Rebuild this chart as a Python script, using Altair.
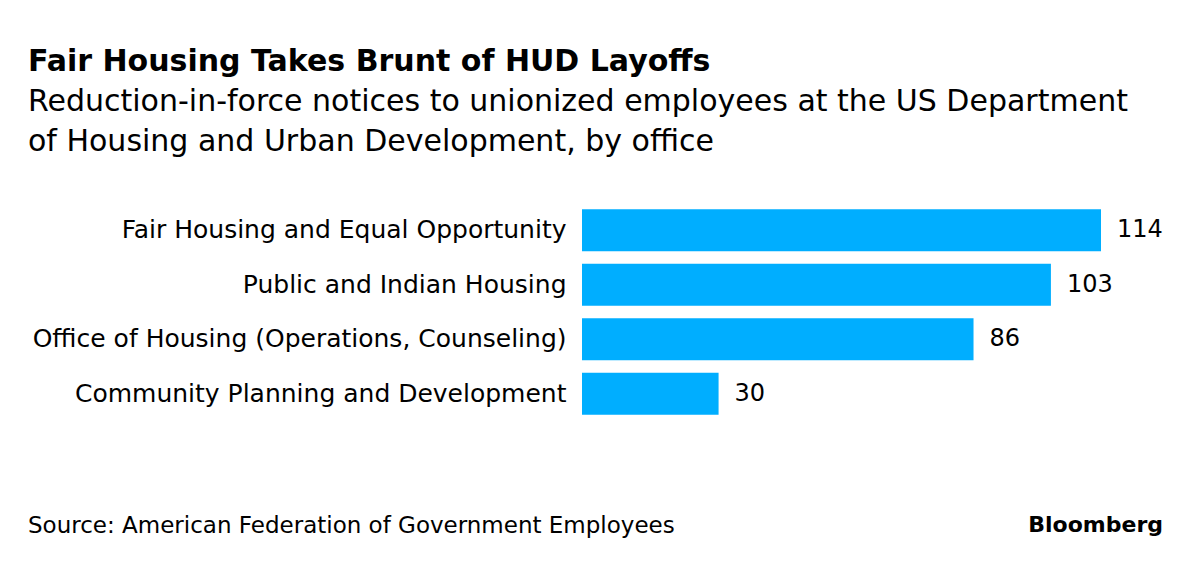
import altair as alt
import pandas as pd

offices = [
    "Fair Housing and Equal Opportunity",
    "Public and Indian Housing",
    "Office of Housing (Operations, Counseling)",
    "Community Planning and Development",
]
notices = [114, 103, 86, 30]

title_text = "Fair Housing Takes Brunt of HUD Layoffs"
subtitle_lines = [
    "Reduction-in-force notices to unionized employees at the US Department",
    "of Housing and Urban Development, by office",
]
source_text = "Source: American Federation of Government Employees"
brand_text = "Bloomberg"

FONT = "DejaVu Sans"
BLUE = "#00aeff"

df = pd.DataFrame({"office": offices, "notices": notices})

y_enc = alt.Y(
    "office:N",
    sort=offices,
    title=None,
    scale=alt.Scale(paddingInner=0.23, paddingOuter=0.115),
    axis=alt.Axis(
        domain=False, ticks=False, labelFontSize=25, labelColor="#000000",
        labelFont=FONT, labelPadding=16, labelLimit=600,
    ),
)
x_enc = alt.X("notices:Q", axis=None, scale=alt.Scale(domain=[0, 114], nice=False))

bars = alt.Chart(df).mark_bar(color=BLUE).encode(x=x_enc, y=y_enc)
labels = alt.Chart(df).mark_text(
    align="left", baseline="middle", dx=16, fontSize=24, font=FONT, color="#000000"
).encode(x=x_enc, y=y_enc, text="notices:Q")

src = alt.Chart(pd.DataFrame({"t": [source_text]})).mark_text(
    align="left", baseline="alphabetic", fontSize=23, font=FONT, color="#000000"
).encode(x=alt.value(-554), y=alt.value(330), text="t:N")

brand = alt.Chart(pd.DataFrame({"t": [brand_text]})).mark_text(
    align="right", baseline="alphabetic", fontSize=22, font=FONT, fontWeight="bold", color="#000000"
).encode(x=alt.value(581), y=alt.value(329), text="t:N")

chart = alt.layer(bars, labels, src, brand).properties(
    width=519,
    height=218,
    autosize=alt.AutoSizeParams(type="none"),
    padding={"left": 574, "top": 195, "right": 92, "bottom": 137},
    background="#ffffff",
    title=alt.TitleParams(
        text=title_text,
        subtitle=subtitle_lines,
        anchor="start",
        frame="group",
        dx=-554,
        dy=-6,
        offset=40,
        font=FONT,
        fontSize=30,
        fontWeight="bold",
        color="#000000",
        subtitleFont=FONT,
        subtitleFontSize=30,
        subtitleColor="#000000",
        subtitleLineHeight=40,
        subtitlePadding=10,
    ),
).configure_view(stroke="transparent")

chart.save("out.html", embed_options={"renderer": "svg", "actions": False})
